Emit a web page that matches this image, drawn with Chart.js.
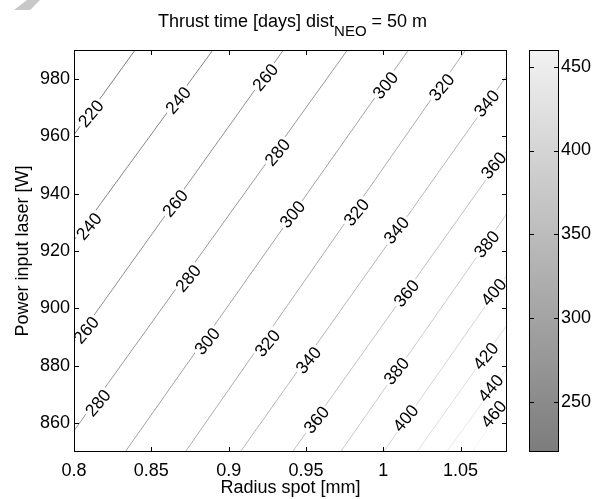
<!DOCTYPE html>
<html>
<head>
<meta charset="utf-8">
<script src="https://cdn.jsdelivr.net/npm/chart.js@4.4.0/dist/chart.umd.min.js"></script>
<style>
body { margin: 0; background: #fff; }
#wrap { position: relative; width: 595px; height: 499px; overflow: hidden; font-family: 'Liberation Sans', Arial, sans-serif; }
#main { position: absolute; left: 0; top: 0; }
#cbar { position: absolute; left: 520px; top: 0; }
#title { position: absolute; left: 158px; top: 12px; font-size: 18px; line-height: 18px; white-space: nowrap; color: #000; }
#title sub { font-size: 15px; vertical-align: baseline; position: relative; top: 9px; }
#mark { position: absolute; left: 14px; top: 0; width: 26px; height: 10px; background: #c8c8c8; clip-path: polygon(50% 0, 100% 0, 62% 100%, 0 100%); }
</style>
</head>
<body>
<div id="wrap">
  <div id="mark"></div>
  <canvas id="main" width="595" height="499"></canvas>
  <canvas id="cbar" width="75" height="499"></canvas>
  <div id="title">Thrust time [days] dist<sub>NEO</sub> = 50 m</div>
</div>
<script>
const radiusTicks = [0.8, 0.85, 0.9, 0.95, 1, 1.05];
const powerTicks = [860, 880, 900, 920, 940, 960, 980];
const colorTicks = [250, 300, 350, 400, 450];

const levels = [220, 240, 260, 280, 300, 320, 340, 360, 380, 400, 420, 440, 460];
// where each contour level enters and leaves the plot (radius in mm, power in W)
const contourR = [
    [0.8, 0.8395], [0.8, 0.8898], [0.8, 0.9354], [0.8, 0.9768], [0.833, 1.0163],
    [0.8719, 1.0532], [0.9075, 1.08], [0.9412, 1.08], [0.9723, 1.08], [1.0001, 1.08],
    [1.0217, 1.08], [1.0409, 1.08], [1.0574, 1.08]
];
const contourP = [
    [960.5, 990], [923.8, 990], [887.9, 990], [857.4, 990], [850, 990],
    [850, 990], [850, 981.1], [850, 955.1], [850, 933.0], [850, 911.6],
    [850, 894.2], [850, 879.1], [850, 867.4]
];

// inline contour labels
const labelLevel = [220, 240, 240, 260, 260, 260, 280, 280, 280, 300, 300, 300, 320, 320, 320,
    340, 340, 340, 360, 360, 360, 380, 380, 400, 400, 420, 440, 460];
const labelR = [0.811, 0.8097, 0.8674, 0.8078, 0.8654, 0.9237, 0.8155, 0.8738, 0.9315, 0.8861, 0.9412, 1.0014,
    0.925, 0.9826, 1.0377, 0.9516, 1.0085, 1.0668, 0.9567, 1.015, 1.0714, 1.0085, 1.0668, 1.0144, 1.0714,
    1.0662, 1.0694, 1.0714];
const labelP = [967.9, 928.6, 972.5, 892.5, 936.6, 980.5, 867.1, 910.5, 954.4, 888.6, 932.8, 977.7,
    887.9, 933.5, 977.0, 882.0, 927.2, 971.4, 861.2, 905.3, 949.8, 878.2, 922.4, 861.8, 905.7,
    883.4, 872.3, 863.2];

const cMin = 220, cMax = 460;
const labelAngle = -50 * Math.PI / 180;

Chart.defaults.font.family = "'Liberation Sans', Arial, sans-serif";
Chart.defaults.font.size = 18;
Chart.defaults.color = '#000';

function grayOf(v) {
    const t = Math.min(1, Math.max(0, (v - cMin) / (cMax - cMin)));
    const g = Math.round(124 + t * (242 - 124));
    return `rgb(${g},${g},${g})`;
}

function drawInwardTicks(ctx, area, xScale, xVals, yScale, yVals, len) {
    ctx.beginPath();
    if (xScale) {
        xVals.forEach(v => {
            const x = Math.round(xScale.getPixelForValue(v)) + 0.5;
            ctx.moveTo(x, area.bottom); ctx.lineTo(x, area.bottom - len);
            ctx.moveTo(x, area.top); ctx.lineTo(x, area.top + len);
        });
    }
    yVals.forEach(v => {
        const y = Math.round(yScale.getPixelForValue(v)) + 0.5;
        ctx.moveTo(area.left, y); ctx.lineTo(area.left + len, y);
        ctx.moveTo(area.right, y); ctx.lineTo(area.right - len, y);
    });
    ctx.stroke();
}

const framePlugin = {
    id: 'frame',
    afterDraw(chart) {
        const { ctx, chartArea: a, scales } = chart;
        ctx.save();
        ctx.strokeStyle = '#000';
        ctx.lineWidth = 1;
        ctx.strokeRect(Math.round(a.left) + 0.5, Math.round(a.top) + 0.5,
            Math.round(a.right - a.left) - 1, Math.round(a.bottom - a.top) - 1);
        if (chart.canvas.id === 'main') {
            drawInwardTicks(ctx, a, scales.x, radiusTicks, scales.y, powerTicks, 5);
        } else {
            drawInwardTicks(ctx, a, null, [], scales.y, colorTicks, 5);
        }
        ctx.restore();
    }
};

const labelPlugin = {
    id: 'contourLabels',
    afterDatasetsDraw(chart) {
        const { ctx, scales } = chart;
        ctx.save();
        ctx.font = "17.5px 'Liberation Sans', Arial, sans-serif";
        ctx.textAlign = 'center';
        ctx.textBaseline = 'middle';
        labelLevel.forEach((lv, i) => {
            const px = scales.x.getPixelForValue(labelR[i]);
            const py = scales.y.getPixelForValue(labelP[i]);
            const txt = String(lv);
            const w = ctx.measureText(txt).width;
            ctx.save();
            ctx.translate(px, py);
            ctx.rotate(labelAngle);
            ctx.fillStyle = '#fff';
            ctx.fillRect(-w / 2 - 2, -7, w + 4, 14);
            ctx.fillStyle = '#000';
            ctx.fillText(txt, 0, 1);
            ctx.restore();
        });
        ctx.restore();
    }
};

const datasets = levels.map((lv, i) => ({
    label: String(lv),
    data: contourR[i].map((r, j) => ({ x: r, y: contourP[i][j] })),
    showLine: true,
    borderColor: grayOf(lv),
    borderWidth: 1,
    pointRadius: 0,
    tension: 0,
    fill: false
}));

new Chart(document.getElementById('main'), {
    type: 'scatter',
    data: { datasets },
    options: {
        responsive: false,
        animation: false,
        events: [],
        layout: { padding: { top: 50, right: 88, left: 0, bottom: 0 } },
        plugins: { legend: { display: false }, tooltip: { enabled: false } },
        scales: {
            x: {
                type: 'linear', min: 0.8, max: 1.08,
                afterBuildTicks: s => { s.ticks = radiusTicks.map(v => ({ value: v })); },
                afterFit: s => { s.height = 47; },
                grid: { display: false, drawTicks: false },
                border: { display: false },
                ticks: { padding: 8, autoSkip: false, maxRotation: 0, callback: v => String(v) },
                title: { display: true, text: 'Radius spot [mm]', padding: { top: 0, bottom: 0 } }
            },
            y: {
                type: 'linear', min: 850, max: 990,
                afterBuildTicks: s => { s.ticks = powerTicks.map(v => ({ value: v })); },
                afterFit: s => { s.width = 74; },
                grid: { display: false, drawTicks: false },
                border: { display: false },
                ticks: { padding: 4, autoSkip: false, callback: v => String(v) },
                title: { display: true, text: 'Power input laser [W]', padding: { top: 12, bottom: 0 } }
            }
        }
    },
    plugins: [framePlugin, labelPlugin]
});

new Chart(document.getElementById('cbar'), {
    type: 'bar',
    data: {
        labels: [''],
        datasets: [{
            data: [[cMin, cMax]],
            barPercentage: 1,
            categoryPercentage: 1,
            borderWidth: 0,
            backgroundColor: (c) => {
                const area = c.chart.chartArea;
                if (!area) return grayOf(340);
                const g = c.chart.ctx.createLinearGradient(0, area.bottom, 0, area.top);
                g.addColorStop(0, grayOf(cMin));
                g.addColorStop(1, grayOf(cMax));
                return g;
            }
        }]
    },
    options: {
        responsive: false,
        animation: false,
        events: [],
        layout: { padding: { top: 50, right: 0, left: 9, bottom: 47 } },
        plugins: { legend: { display: false }, tooltip: { enabled: false } },
        scales: {
            x: { display: false },
            y: {
                position: 'right', min: cMin, max: cMax,
                afterBuildTicks: s => { s.ticks = colorTicks.map(v => ({ value: v })); },
                afterFit: s => { s.width = 36; },
                grid: { display: false, drawTicks: false },
                border: { display: false },
                ticks: { padding: 2, autoSkip: false, callback: v => String(v) }
            }
        }
    },
    plugins: [framePlugin]
});
</script>
</body>
</html>
